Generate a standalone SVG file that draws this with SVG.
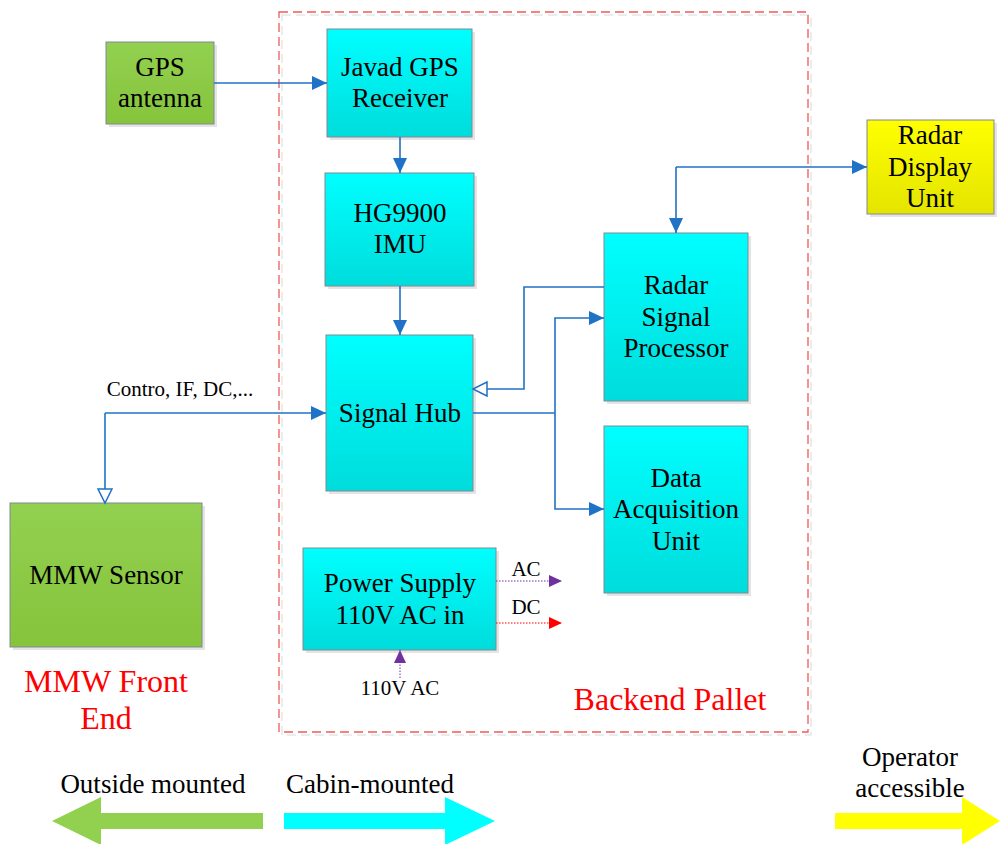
<svg xmlns="http://www.w3.org/2000/svg" width="1002" height="844" viewBox="0 0 1002 844">
<defs>
<linearGradient id="gCyan" x1="0" y1="0" x2="0" y2="1"><stop offset="0" stop-color="#00FFFF"/><stop offset="1" stop-color="#00DCDC"/></linearGradient>
<linearGradient id="gGreen" x1="0" y1="0" x2="0" y2="1"><stop offset="0" stop-color="#92D050"/><stop offset="1" stop-color="#86C43C"/></linearGradient>
<linearGradient id="gYellow" x1="0" y1="0" x2="0" y2="1"><stop offset="0" stop-color="#FFFF00"/><stop offset="1" stop-color="#E4E400"/></linearGradient>
<marker id="aFill" markerUnits="userSpaceOnUse" markerWidth="16" markerHeight="16" refX="15" refY="7" orient="auto"><path d="M0,0 L15,7 L0,14 z" fill="#1F72C6"/></marker>
<marker id="aOpen" markerUnits="userSpaceOnUse" markerWidth="18" markerHeight="18" refX="15" refY="8" orient="auto"><path d="M1,1 L15,8 L1,15 z" fill="#FFFFFF" stroke="#1F72C6" stroke-width="1.5"/></marker>
<marker id="aPurple" markerUnits="userSpaceOnUse" markerWidth="14" markerHeight="14" refX="13" refY="6" orient="auto"><path d="M0,0 L13,6 L0,12 z" fill="#7030A0"/></marker>
<marker id="aRed" markerUnits="userSpaceOnUse" markerWidth="14" markerHeight="14" refX="13" refY="6" orient="auto"><path d="M0,0 L13,6 L0,12 z" fill="#FF0000"/></marker>
</defs>
<style>
text{font-family:'Liberation Serif','Times New Roman','DejaVu Serif',serif}
.t{font-size:27px;fill:#000;text-anchor:middle}
.s{font-size:21px;fill:#000;text-anchor:middle}
.r{font-size:32px;fill:#FF0000;text-anchor:middle}
.box{stroke:#7F8A90;stroke-width:1}
.sh{fill:#D9D9D9;opacity:0.7}
.c{fill:url(#gCyan)}
.g{fill:url(#gGreen)}
.y{fill:url(#gYellow)}
.ln{fill:none;stroke:#1F72C6;stroke-width:1.6}
</style>
<rect width="1002" height="844" fill="#FFFFFF"/>

<g id="backend-pallet">
<rect x="282" y="15" width="529" height="720" fill="none" stroke="#E6E6E6" stroke-width="1.5" stroke-dasharray="9,5"/>
<rect x="279" y="12" width="529" height="720" fill="none" stroke="#F05A5A" stroke-width="1.3" stroke-dasharray="9,5"/>
<text class="r" x="670" y="710">Backend Pallet</text>
</g>

<g id="gps-antenna">
<rect class="sh" x="109" y="45" width="108" height="82"/>
<rect class="box g" x="106" y="42" width="108" height="82"/>
<text class="t" x="160" y="76">GPS</text>
<text class="t" x="160" y="107">antenna</text>
</g>

<g id="javad-gps">
<rect class="sh" x="330" y="32" width="145" height="108"/>
<rect class="box c" x="327" y="29" width="145" height="108"/>
<text class="t" x="400" y="76">Javad GPS</text>
<text class="t" x="400" y="107">Receiver</text>
</g>

<g id="imu">
<rect class="sh" x="328" y="176" width="149" height="113"/>
<rect class="box c" x="325" y="173" width="149" height="113"/>
<text class="t" x="400" y="222">HG9900</text>
<text class="t" x="400" y="253">IMU</text>
</g>

<g id="signal-hub">
<rect class="sh" x="329" y="338" width="147" height="156"/>
<rect class="box c" x="326" y="335" width="147" height="156"/>
<text class="t" x="400" y="422">Signal Hub</text>
</g>

<g id="radar-signal-processor">
<rect class="sh" x="607" y="236" width="144" height="168"/>
<rect class="box c" x="604" y="233" width="144" height="168"/>
<text class="t" x="676" y="294">Radar</text>
<text class="t" x="676" y="326">Signal</text>
<text class="t" x="676" y="357">Processor</text>
</g>

<g id="data-acquisition-unit">
<rect class="sh" x="607" y="429" width="144" height="167"/>
<rect class="box c" x="604" y="426" width="144" height="167"/>
<text class="t" x="676" y="487">Data</text>
<text class="t" x="676" y="518">Acquisition</text>
<text class="t" x="676" y="550">Unit</text>
</g>

<g id="radar-display-unit">
<rect class="sh" x="870" y="123" width="127" height="94"/>
<rect class="box y" x="867" y="120" width="127" height="94"/>
<text class="t" x="930" y="144">Radar</text>
<text class="t" x="930" y="176">Display</text>
<text class="t" x="930" y="207">Unit</text>
</g>

<g id="power-supply">
<rect class="sh" x="306" y="551" width="193" height="102"/>
<rect class="box c" x="303" y="548" width="193" height="102"/>
<text class="t" x="400" y="592">Power Supply</text>
<text class="t" x="400" y="624">110V AC in</text>
</g>

<g id="mmw-sensor">
<rect class="sh" x="13" y="506" width="192" height="144"/>
<rect class="box g" x="10" y="503" width="192" height="144"/>
<text class="t" x="106" y="584">MMW Sensor</text>
<text class="r" x="106" y="692">MMW Front</text>
<text class="r" x="106" y="729">End</text>
</g>

<g id="connectors">
<path class="ln" d="M214,83 H327" marker-end="url(#aFill)"/>
<path class="ln" d="M400,137 V173" marker-end="url(#aFill)"/>
<path class="ln" d="M400,286 V335" marker-end="url(#aFill)"/>
<path class="ln" d="M105,413 H326" marker-end="url(#aFill)"/>
<path class="ln" d="M105,413 V503" marker-end="url(#aOpen)"/>
<text class="s" x="180" y="396">Contro, IF, DC,...</text>
<path class="ln" d="M676,167 H867" marker-end="url(#aFill)"/>
<path class="ln" d="M676,167 V233" marker-end="url(#aFill)"/>
<path class="ln" d="M604,287 H524 V389 H473" marker-end="url(#aOpen)"/>
<path class="ln" d="M473,413 H555"/>
<path class="ln" d="M555,413 V318 H604" marker-end="url(#aFill)"/>
<path class="ln" d="M555,413 V509 H604" marker-end="url(#aFill)"/>
<path d="M496,581 H562" fill="none" stroke="#7030A0" stroke-width="1" stroke-dasharray="1.5,1.5" marker-end="url(#aPurple)"/>
<text class="s" x="526" y="576">AC</text>
<path d="M496,623 H562" fill="none" stroke="#FF0000" stroke-width="1" stroke-dasharray="1.5,1.5" marker-end="url(#aRed)"/>
<text class="s" x="526" y="614">DC</text>
<path d="M400,678 V650" fill="none" stroke="#7030A0" stroke-width="1" stroke-dasharray="1.5,1.5" marker-end="url(#aPurple)"/>
<text class="s" x="400" y="695">110V AC</text>
</g>

<g id="legend">
<path d="M52,821 L101,797 V813 H263 V829 H101 V845 z" fill="#92D050"/>
<text class="t" x="153" y="793">Outside mounted</text>
<path d="M284,813 H445 V797 L495,821 L445,845 V829 H284 z" fill="#00FFFF"/>
<text class="t" x="370" y="793">Cabin-mounted</text>
<path d="M835,813 H962 V797 L1000,821 L962,845 V829 H835 z" fill="#FFFF00"/>
<text class="t" x="910" y="766">Operator</text>
<text class="t" x="910" y="797">accessible</text>
</g>
</svg>
